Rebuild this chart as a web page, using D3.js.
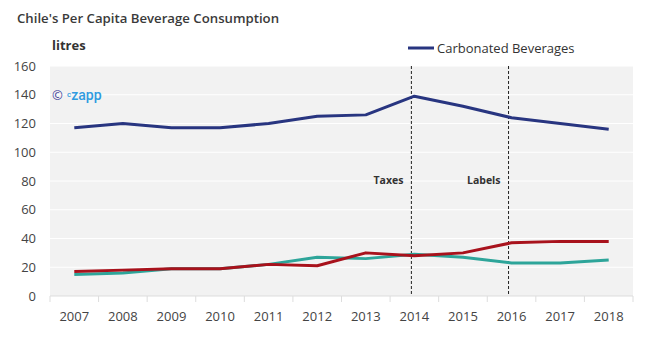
<!DOCTYPE html>
<html>
<head>
<meta charset="utf-8">
<script src="https://cdn.jsdelivr.net/npm/d3@7"></script>
<style>
  body { margin: 0; background: #fff; font-family: "Open Sans", sans-serif; }
</style>
</head>
<body>
<div id="chart"></div>
<script>
const years = ["2007", "2008", "2009", "2010", "2011", "2012", "2013", "2014", "2015", "2016", "2017", "2018"];
const carbonated = [117, 120, 117, 117, 120, 125, 126, 139, 132, 124, 120, 116];
const tealSeries = [15, 16, 19, 19, 22, 27, 26, 29, 27, 23, 23, 25];
const redSeries = [17, 18, 19, 19, 22, 21, 30, 28, 30, 37, 38, 38];
const yTicks = [0, 20, 40, 60, 80, 100, 120, 140, 160];
const events = [{ year: "2014", label: "Taxes" }, { year: "2016", label: "Labels" }];

const W = 667, H = 350;
const margin = { top: 66, right: 34, bottom: 54, left: 50 };
const width = W - margin.left - margin.right;
const height = H - margin.top - margin.bottom;

const svgRoot = d3.select("#chart").append("svg")
    .attr("width", W)
    .attr("height", H);

svgRoot.append("text")
    .attr("x", 17).attr("y", 23)
    .attr("font-size", 13.2)
    .attr("font-weight", 600)
    .attr("fill", "#3a3a3a")
    .text("Chile's Per Capita Beverage Consumption");

const svg = svgRoot.append("g")
    .attr("transform", `translate(${margin.left}, ${margin.top})`);

const xScale = d3.scaleBand().domain(years).range([0, width]);
const yScale = d3.scaleLinear().domain([0, 160]).range([height, 0]);

// plot background
svg.append("rect")
    .attr("width", width).attr("height", height)
    .attr("fill", "#f2f2f2");

// gridlines
svg.selectAll(".grid")
    .data(yTicks.slice(1))
    .enter().append("line")
    .attr("x1", 0).attr("x2", width)
    .attr("y1", d => yScale(d)).attr("y2", d => yScale(d))
    .attr("stroke", "#fff").attr("stroke-width", 1);

// y axis labels
svg.selectAll(".ylab")
    .data(yTicks)
    .enter().append("text")
    .attr("x", -14).attr("y", d => yScale(d))
    .attr("dy", "0.35em")
    .attr("text-anchor", "end")
    .attr("font-size", 13)
    .attr("fill", "#444")
    .text(d => d);

// x axis
const xAxis = svg.append("g")
    .attr("transform", `translate(0, ${height})`);
xAxis.append("line")
    .attr("x1", 0).attr("x2", width)
    .attr("stroke", "#ddd");
xAxis.selectAll(".tick")
    .data(d3.range(years.length + 1))
    .enter().append("line")
    .attr("x1", i => i * xScale.step()).attr("x2", i => i * xScale.step())
    .attr("y1", 0).attr("y2", 6)
    .attr("stroke", "#ddd");
xAxis.selectAll(".xlab")
    .data(years)
    .enter().append("text")
    .attr("x", d => xScale(d) + xScale.bandwidth() / 2)
    .attr("y", 25)
    .attr("text-anchor", "middle")
    .attr("font-size", 13)
    .attr("fill", "#444")
    .text(d => d);

// watermark
svg.append("text")
    .attr("x", 2).attr("y", yScale(140) + 5)
    .attr("font-size", 13)
    .attr("fill", "#3f3f9a")
    .text("\u00a9");
const wm = svg.append("text")
    .attr("x", 17).attr("y", yScale(140) + 5)
    .attr("font-family", "Roboto, sans-serif")
    .attr("font-weight", 500)
    .attr("fill", "#2f9be0");
wm.append("tspan").attr("font-size", 8).attr("dy", -3).text("c");
wm.append("tspan").attr("font-size", 14).attr("dy", 3).text("zapp");

svgRoot.append("text")
    .attr("x", 52).attr("y", 50)
    .attr("font-size", 13)
    .attr("font-weight", "bold")
    .attr("fill", "#333")
    .text("litres");

// event lines
events.forEach(e => {
    const x = xScale(e.year) + xScale.bandwidth() / 2 - 3;
    svg.append("line")
        .attr("x1", x).attr("x2", x)
        .attr("y1", 0).attr("y2", height)
        .attr("stroke", "#222")
        .attr("stroke-width", 1)
        .attr("stroke-dasharray", "3,2");
    svg.append("text")
        .attr("x", x - 8).attr("y", yScale(80) + 3)
        .attr("text-anchor", "end")
        .attr("font-size", 10.5)
        .attr("font-weight", "bold")
        .attr("fill", "#333")
        .text(e.label);
});

const line = d3.line()
    .x((d, i) => xScale(years[i]) + xScale.bandwidth() / 2)
    .y(d => yScale(d));

[
    { values: tealSeries, color: "#2ea59a" },
    { values: redSeries, color: "#a8121c" },
    { values: carbonated, color: "#283580" }
].forEach(s => {
    svg.append("path")
        .datum(s.values)
        .attr("d", line)
        .attr("fill", "none")
        .attr("stroke", s.color)
        .attr("stroke-width", 3)
        .attr("stroke-linejoin", "round");
});

// legend
const legend = svgRoot.append("g").attr("transform", "translate(408, 48)");
legend.append("line")
    .attr("x1", 0).attr("x2", 26)
    .attr("stroke", "#283580").attr("stroke-width", 3);
legend.append("text")
    .attr("x", 29).attr("y", 0)
    .attr("dy", "0.35em")
    .attr("font-size", 13)
    .attr("fill", "#333")
    .text("Carbonated Beverages");
</script>
</body>
</html>
